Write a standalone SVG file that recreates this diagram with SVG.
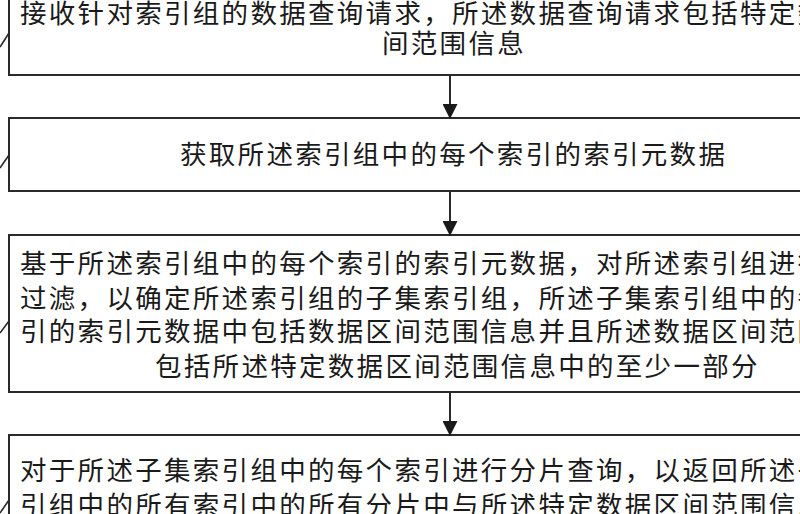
<svg xmlns="http://www.w3.org/2000/svg" width="800" height="514" viewBox="0 0 800 514">
<style>
.box{fill:#fff;stroke:#2a2a2a;stroke-width:2}
.t{font-family:"Noto Sans CJK SC","Noto Sans",sans-serif;font-size:26.5px;letter-spacing:2.3px;fill:#1a1a1a}
.c{stroke:#2a2a2a;stroke-width:2;fill:none}
.lead{stroke:#2a2a2a;stroke-width:1.6;fill:none}
</style>
<defs>
<marker id="ah" markerWidth="15" markerHeight="15" refX="14" refY="7.5" orient="auto" markerUnits="userSpaceOnUse">
<path d="M0,0 L15,7.5 L0,15 Z" fill="#1a1a1a"/>
</marker>
</defs>
<rect width="800" height="514" fill="#fff"/>
<g id="node1">
<rect class="box" x="9" y="-20" width="830" height="95"/>
<text class="t" x="20" y="23">接收针对索引组的数据查询请求，所述数据查询请求包括特定数</text>
<text class="t" x="382" y="53">间范围信息</text>
</g>
<g id="node2">
<rect class="box" x="9" y="118" width="830" height="73"/>
<text class="t" x="180" y="164">获取所述索引组中的每个索引的索引元数据</text>
</g>
<g id="node3">
<rect class="box" x="9" y="235" width="830" height="157"/>
<text class="t" x="20" y="273">基于所述索引组中的每个索引的索引元数据，对所述索引组进行</text>
<text class="t" x="20" y="308">过滤，以确定所述索引组的子集索引组，所述子集索引组中的每</text>
<text class="t" x="20" y="341">引的索引元数据中包括数据区间范围信息并且所述数据区间范围</text>
<text class="t" x="155" y="376">包括所述特定数据区间范围信息中的至少一部分</text>
</g>
<g id="node4">
<rect class="box" x="9" y="435" width="830" height="100"/>
<text class="t" x="20" y="480">对于所述子集索引组中的每个索引进行分片查询，以返回所述子</text>
<text class="t" x="20" y="515">引组中的所有索引中的所有分片中与所述特定数据区间范围信息</text>
</g>
<g id="connectors">
<line class="c" x1="450" y1="75" x2="450" y2="118" marker-end="url(#ah)"/>
<line class="c" x1="450" y1="191" x2="450" y2="235" marker-end="url(#ah)"/>
<line class="c" x1="450" y1="392" x2="450" y2="435" marker-end="url(#ah)"/>
<path class="lead" d="M0,47 L9,33"/>
<path class="lead" d="M0,168 L9,155"/>
<path class="lead" d="M0,333 L9,321"/>
<path class="lead" d="M0,513 L9,500"/>
</g>
</svg>
